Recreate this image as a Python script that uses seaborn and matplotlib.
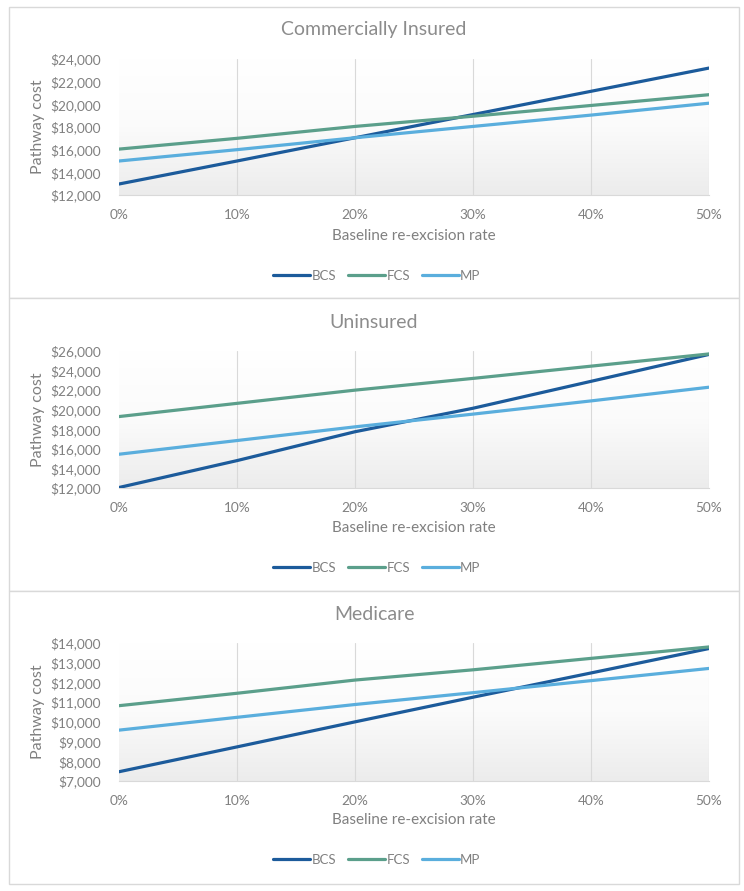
import numpy as np
import pandas as pd
import matplotlib
matplotlib.use("Agg")
import matplotlib.pyplot as plt
from matplotlib.patches import Rectangle
from matplotlib.ticker import FuncFormatter, MultipleLocator
from matplotlib.colors import LinearSegmentedColormap
import seaborn as sns

sns.set_theme(style="white")
plt.rcParams["font.family"] = ["Lato", "DejaVu Sans"]

rates = [0.0, 0.1, 0.2, 0.3, 0.4, 0.5]
series = ["BCS", "FCS", "MP"]

titles = ["Commercially Insured", "Uninsured", "Medicare"]

comm_bcs = [12970, 15000, 17050, 19100, 21150, 23200]
comm_fcs = [16050, 17000, 18050, 18950, 19900, 20850]
comm_mp = [15000, 16000, 17050, 18050, 19050, 20100]

unins_bcs = [12050, 14800, 17750, 20150, 22900, 25650]
unins_fcs = [19300, 20650, 22000, 23200, 24450, 25700]
unins_mp = [15450, 16850, 18250, 19550, 20900, 22300]

med_bcs = [7470, 8730, 10000, 11250, 12480, 13720]
med_fcs = [10820, 11450, 12120, 12640, 13220, 13800]
med_mp = [9580, 10230, 10880, 11480, 12090, 12710]

ylims = [(12000, 24000, 2000), (12000, 26000, 2000), (7000, 14000, 1000)]

palette = {"BCS": "#1c5b9b", "FCS": "#5b9f8b", "MP": "#5aaedd"}
TXT = "#808080"

W, H = 744, 891
fig = plt.figure(figsize=(W / 100, H / 100), dpi=100)

panels = [
    dict(box=(9, 7, 739, 298), plot=(119, 59, 709, 195), title=30, xl=236, leg=276),
    dict(box=(9, 298, 739, 591), plot=(119, 351, 709, 488), title=322, xl=528, leg=568),
    dict(box=(9, 591, 739, 884), plot=(119, 643, 709, 781), title=614, xl=820, leg=860),
]

data_sets = [
    (comm_bcs, comm_fcs, comm_mp),
    (unins_bcs, unins_fcs, unins_mp),
    (med_bcs, med_fcs, med_mp),
]

def fx(px):
    return px / W

def fy(py):
    return 1 - py / H

grad = np.linspace(0, 1, 256).reshape(-1, 1)
gcmap = LinearSegmentedColormap.from_list("g", ["#ffffff", "#fbfbfb", "#ececec"])

for i, p in enumerate(panels):
    bx0, by0, bx1, by1 = p["box"]
    fig.patches.append(Rectangle((fx(bx0), fy(by1)), fx(bx1 - bx0), (by1 - by0) / H,
                                 transform=fig.transFigure, facecolor="white",
                                 edgecolor="#d9d9d9", linewidth=1.0, zorder=-5))
    x0, y0, x1, y1 = p["plot"]
    ax = fig.add_axes([fx(x0), fy(y1), fx(x1 - x0), (y1 - y0) / H])
    ax.set_facecolor("none")
    ax.imshow(grad, extent=[0, 1, 0, 1], transform=ax.transAxes, cmap=gcmap,
              aspect="auto", zorder=0, origin="upper")

    b, f, m = data_sets[i]
    df = pd.DataFrame({
        "rate": rates * 3,
        "cost": list(b) + list(f) + list(m),
        "series": ["BCS"] * 6 + ["FCS"] * 6 + ["MP"] * 6,
    })
    sns.lineplot(data=df, x="rate", y="cost", hue="series", palette=palette,
                 linewidth=2.3, ax=ax, legend=False, zorder=3)

    lo, hi, step = ylims[i]
    ax.set_ylim(lo, hi)
    ax.set_xlim(0, 0.5)
    ax.yaxis.set_major_locator(MultipleLocator(step))
    ax.xaxis.set_major_locator(MultipleLocator(0.1))
    ax.yaxis.set_major_formatter(FuncFormatter(lambda v, _: f"${v:,.0f}"))
    ax.xaxis.set_major_formatter(FuncFormatter(lambda v, _: f"{v*100:.0f}%"))
    for xv in [0.1, 0.2, 0.3, 0.4, 0.5]:
        ax.axvline(xv, color="#d9d9d9", linewidth=0.8, zorder=1)
    for s in ["top", "right", "left"]:
        ax.spines[s].set_visible(False)
    ax.spines["bottom"].set_color("#d9d9d9")
    ax.spines["bottom"].set_linewidth(0.8)
    ax.tick_params(axis="both", length=0, labelsize=9.8, colors=TXT)
    ax.tick_params(axis="x", pad=10)
    ax.tick_params(axis="y", pad=13)
    ax.set_xlabel("")
    ax.set_ylabel("Pathway cost", fontsize=11.5, color=TXT, labelpad=4)

    fig.text(0.5 * (fx(bx0) + fx(bx1)), fy(p["title"]), titles[i], ha="center", va="center",
             fontsize=14, color="#8c8c8c")
    fig.text(fx((x0 + x1) / 2), fy(p["xl"]), "Baseline re-excision rate", ha="center",
             va="center", fontsize=11, color=TXT)

    handles = [plt.Line2D([0], [0], color=palette[s], linewidth=2.3) for s in series]
    fig.legend(handles, series, loc="center", bbox_to_anchor=(fx(377), fy(p["leg"])),
               ncol=3, frameon=False, fontsize=9.5, labelcolor=TXT, handlelength=2.8,
               handletextpad=0.1, columnspacing=0.9)

fig.savefig("out.png", dpi=100, facecolor="white")
